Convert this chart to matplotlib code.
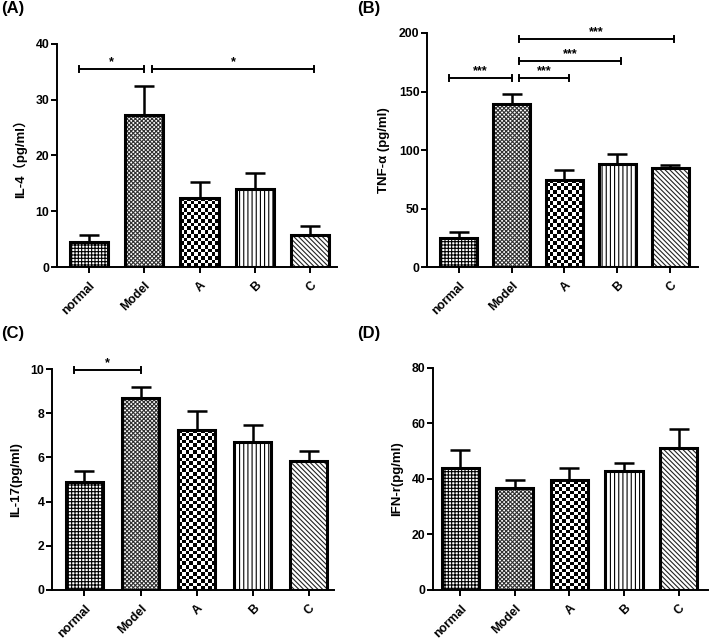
import numpy as np
import matplotlib
matplotlib.use('Agg')
import matplotlib.pyplot as plt

plt.rcParams['font.family'] = ['Liberation Sans', 'Noto Sans CJK SC', 'DejaVu Sans']
plt.rcParams['font.weight'] = 'bold'
plt.rcParams['hatch.linewidth'] = 0.8

groups = ['normal', 'Model', 'A', 'B', 'C']

il4_mean = [4.5, 27.2, 12.4, 14.0, 5.8]
il4_err = [1.3, 5.2, 2.8, 2.9, 1.5]
tnf_mean = [25, 139, 74.5, 88, 84.5]
tnf_err = [5, 9, 8, 8.5, 3]
il17_mean = [4.9, 8.7, 7.25, 6.7, 5.85]
il17_err = [0.5, 0.5, 0.85, 0.75, 0.45]
ifn_mean = [44, 36.8, 39.6, 42.9, 51]
ifn_err = [6.3, 2.9, 4.2, 2.7, 7]

# (from, to, height, stars)
il4_sig = [(0, 1, 35.5, '*'), (1, 4, 35.5, '*')]
tnf_sig = [(0, 1, 161.5, '***'), (1, 2, 161.5, '***'), (1, 3, 176, '***'), (1, 4, 195, '***')]
il17_sig = [(0, 1, 9.95, '*')]

# hatch, hatch colour for each group ('checker' is drawn as an image)
patterns = [('+++++', 'black'), ('xxxxxxxx', '#303030'), ('checker', None),
            ('||||', 'black'), ('\\\\\\\\\\\\\\', '#222222')]


def checker(ax, bar, cell=3.6):
    x0, y0 = bar.get_x(), bar.get_y()
    w, h = bar.get_width(), bar.get_height()
    p0 = ax.transData.transform((x0, y0))
    p1 = ax.transData.transform((x0 + w, y0 + h))
    nx = max(1, int(round((p1[0] - p0[0]) / cell)))
    ny = max(1, int(round((p1[1] - p0[1]) / cell)))
    img = np.add.outer(np.arange(ny), np.arange(nx)) % 2
    im = ax.imshow(img, cmap='gray', extent=(x0, x0 + w, y0, y0 + h), aspect='auto',
                   interpolation='nearest', origin='lower', zorder=2)
    im.set_clip_path(bar)


def panel(rect, means, errs, ymax, yticks, ylabel, xlim, width, sig, tag, tagpos):
    ax = fig.add_axes(rect)
    x = np.arange(len(groups))
    ax.set_xlim(*xlim)
    ax.set_ylim(0, ymax)
    ax.errorbar(x, means, yerr=[np.zeros(len(errs)), errs], fmt='none', ecolor='black',
                elinewidth=1.8, capsize=7, capthick=1.8, zorder=1)
    for i in range(len(groups)):
        hatch, hc = patterns[i]
        if hatch == 'checker':
            b = ax.bar(x[i], means[i], width, color='white', linewidth=0, zorder=1.5)[0]
            checker(ax, b)
        else:
            ax.bar(x[i], means[i], width, color='white', edgecolor=hc, hatch=hatch,
                   linewidth=0, zorder=2)
        ax.bar(x[i], means[i], width, color='none', edgecolor='black', linewidth=2.2, zorder=3)
    ax.set_xlim(*xlim)
    ax.set_ylim(0, ymax)
    for i, j, y, s in sig:
        xa = i - 0.18 if i == 0 else i + 0.14
        xb = j if j == 1 else j + 0.08
        d = ymax * 0.013
        ax.plot([xa, xb], [y, y], color='black', lw=1.4, clip_on=False)
        ax.plot([xa, xa], [y - d, y + d], color='black', lw=1.4, clip_on=False)
        ax.plot([xb, xb], [y - d, y + d], color='black', lw=1.4, clip_on=False)
        ax.text((xa + xb) / 2, y + ymax * 0.004, s, ha='center', va='bottom', fontsize=9,
                fontweight='bold')
    ax.spines['top'].set_visible(False)
    ax.spines['right'].set_visible(False)
    ax.spines['left'].set_linewidth(1.4)
    ax.spines['bottom'].set_linewidth(1.4)
    ax.set_yticks(yticks)
    ax.set_xticks(x)
    ax.set_xticklabels(groups, rotation=45, ha='right', rotation_mode='anchor')
    ax.tick_params(axis='both', width=1.4, length=4, labelsize=8.8)
    ax.tick_params(axis='y', pad=1.5)
    ax.tick_params(axis='x', pad=5)
    ax.set_ylabel(ylabel, fontsize=9.5, fontweight='bold', labelpad=6)
    fig.text(tagpos[0], tagpos[1], tag, fontsize=12, fontweight='bold', va='top')
    return ax


fig = plt.figure(figsize=(7.09, 6.42), dpi=100)

panel([0.0804, 0.5841, 0.395, 0.3478], il4_mean, il4_err, 40, [0, 10, 20, 30, 40],
      'IL-4（pg/ml）', (-0.58, 4.49), 0.69, il4_sig, '(A)', (0.002, 0.998))
panel([0.6023, 0.5841, 0.3822, 0.3645], tnf_mean, tnf_err, 200, [0, 50, 100, 150, 200],
      'TNF-α (pg/ml)', (-0.6, 4.53), 0.7, tnf_sig, '(B)', (0.503, 0.998))
panel([0.0733, 0.081, 0.3977, 0.3442], il17_mean, il17_err, 10, [0, 2, 4, 6, 8, 10],
      'IL-17(pg/ml)', (-0.58, 4.45), 0.67, il17_sig, '(C)', (0.002, 0.492))
panel([0.6107, 0.081, 0.3879, 0.3458], ifn_mean, ifn_err, 80, [0, 20, 40, 60, 80],
      'IFN-r(pg/ml)', (-0.5, 4.54), 0.68, [], '(D)', (0.503, 0.492))

fig.savefig('out.png', dpi=100)
